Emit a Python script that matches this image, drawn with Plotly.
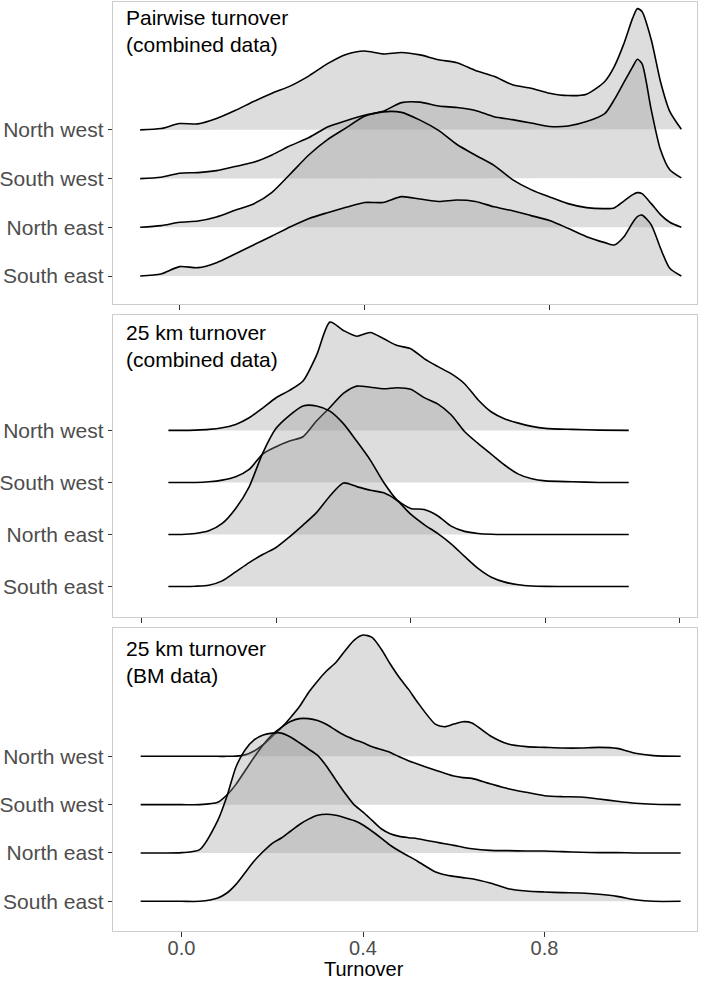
import plotly.graph_objects as go

# ---------------- data ----------------
REGIONS = ["North west", "South west", "North east", "South east"]  # top -> bottom
PANEL_TITLES = ["Pairwise turnover<br>(combined data)",
                "25 km turnover<br>(combined data)",
                "25 km turnover<br>(BM data)"]
X_TITLE = "Turnover"
TICKS_P1 = [0.0, 0.4, 0.8]
TICKS_P2 = [0.0, 0.2, 0.4, 0.6, 0.8]
TICKS_P3 = [0.0, 0.4, 0.8]
TICK_LABELS_P3 = ["0.0", "0.4", "0.8"]

# Panel 1: pairwise turnover (combined data) - density heights (ridge units)
P1_X = [-0.085, -0.04, 0.0, 0.04, 0.08, 0.12, 0.16, 0.2, 0.24, 0.28, 0.32, 0.36, 0.4, 0.44, 0.48,
        0.52, 0.56, 0.6, 0.64, 0.68, 0.72, 0.76, 0.8, 0.84, 0.88, 0.92, 0.94, 0.96, 0.98, 0.99,
        1.0, 1.02, 1.04, 1.06, 1.085]
P1_NW = [0, 0.027, 0.13, 0.123, 0.233, 0.397, 0.582, 0.753, 0.904, 1.11, 1.36, 1.55, 1.62, 1.56, 1.59,
         1.54, 1.44, 1.38, 1.22, 1.10, 0.925, 0.856, 0.753, 0.705, 0.733, 1.0, 1.30, 1.75, 2.30, 2.49,
         2.43, 1.85, 0.99, 0.38, 0.014]
P1_SW = [0, 0.027, 0.11, 0.123, 0.164, 0.247, 0.336, 0.486, 0.678, 0.842, 1.06, 1.19, 1.30, 1.38, 1.56,
         1.57, 1.49, 1.46, 1.40, 1.27, 1.21, 1.14, 1.07, 1.08, 1.17, 1.34, 1.62, 1.96, 2.30, 2.45,
         2.36, 1.41, 0.59, 0.18, 0.014]
P1_NE = [0, 0.034, 0.103, 0.13, 0.212, 0.349, 0.479, 0.719, 1.10, 1.49, 1.80, 2.04, 2.28, 2.37, 2.36,
         2.20, 1.99, 1.70, 1.48, 1.27, 0.98, 0.774, 0.623, 0.486, 0.404, 0.384, 0.397, 0.534, 0.671, 0.712,
         0.692, 0.486, 0.26, 0.103, 0]
P1_SE = [0, 0.041, 0.192, 0.171, 0.274, 0.452, 0.637, 0.822, 1.01, 1.18, 1.30, 1.41, 1.51, 1.51, 1.63,
         1.58, 1.53, 1.56, 1.53, 1.42, 1.34, 1.24, 1.14, 0.979, 0.808, 0.685, 0.637, 0.795, 1.10, 1.22,
         1.25, 1.05, 0.57, 0.158, 0]

# Panel 2: 25 km turnover (combined data)
P2_X = [0.04, 0.06, 0.08, 0.1, 0.12, 0.14, 0.16, 0.18, 0.2, 0.22, 0.24, 0.26, 0.28, 0.3, 0.32, 0.34,
        0.36, 0.38, 0.4, 0.42, 0.44, 0.46, 0.48, 0.5, 0.52, 0.54, 0.56, 0.58, 0.6, 0.64, 0.68, 0.724]
P2_NW = [0, 0, 0.006, 0.019, 0.051, 0.115, 0.244, 0.43, 0.628, 0.769, 0.949, 1.44, 2.08, 1.92, 1.81, 1.88,
         1.76, 1.63, 1.57, 1.38, 1.23, 1.09, 0.897, 0.59, 0.353, 0.22, 0.14, 0.077, 0.038, 0.019, 0.006, 0]
P2_SW = [0, 0, 0, 0.013, 0.045, 0.109, 0.25, 0.545, 0.686, 0.795, 0.878, 1.18, 1.44, 1.71, 1.85, 1.83,
         1.80, 1.82, 1.79, 1.63, 1.51, 1.30, 0.98, 0.75, 0.54, 0.33, 0.16, 0.07, 0.03, 0.013, 0, 0]
P2_NE = [0, 0, 0.019, 0.07, 0.212, 0.5, 0.917, 1.56, 2.04, 2.29, 2.47, 2.47, 2.37, 2.13, 1.79, 1.43,
         1.0, 0.66, 0.5, 0.48, 0.36, 0.16, 0.06, 0.02, 0.005, 0, 0, 0, 0, 0, 0, 0]
P2_SE = [0, 0, 0.006, 0.026, 0.109, 0.282, 0.46, 0.615, 0.75, 0.955, 1.18, 1.42, 1.74, 1.99, 1.92, 1.85,
         1.80, 1.65, 1.39, 1.19, 1.02, 0.82, 0.58, 0.35, 0.18, 0.085, 0.035, 0.012, 0.004, 0, 0, 0]

# Panel 3: 25 km turnover (BM data)
P3_X = [-0.09, -0.04, 0.0, 0.04, 0.08, 0.1, 0.12, 0.14, 0.16, 0.18, 0.2, 0.22, 0.24, 0.26, 0.28, 0.3,
        0.32, 0.34, 0.36, 0.38, 0.4, 0.42, 0.44, 0.46, 0.48, 0.5, 0.52, 0.56, 0.58, 0.6, 0.62, 0.64,
        0.68, 0.72, 0.76, 0.8, 0.84, 0.88, 0.92, 0.96, 1.0, 1.04, 1.1]
P3_NW = [0, 0, 0, 0, 0, 0, 0.005, 0.03, 0.11, 0.24, 0.41, 0.59, 0.80, 1.03, 1.32, 1.56,
         1.77, 1.94, 2.18, 2.40, 2.51, 2.46, 2.22, 1.91, 1.63, 1.39, 1.12, 0.66, 0.613, 0.667, 0.716, 0.69,
         0.427, 0.254, 0.200, 0.186, 0.172, 0.172, 0.186, 0.165, 0.062, 0.014, 0]
P3_SW = [0, 0, 0, 0, 0.05, 0.20, 0.42, 0.70, 0.98, 1.24, 1.45, 1.60, 1.72, 1.78, 1.78, 1.74,
         1.66, 1.54, 1.43, 1.35, 1.28, 1.20, 1.14, 1.08, 0.99, 0.91, 0.84, 0.71, 0.65, 0.592, 0.56, 0.544,
         0.434, 0.33, 0.255, 0.186, 0.165, 0.158, 0.117, 0.069, 0.028, 0.007, 0]
P3_NE = [0, 0, 0.007, 0.069, 0.674, 1.17, 1.78, 2.13, 2.34, 2.44, 2.48, 2.48, 2.40, 2.28, 2.15, 2.02,
         1.79, 1.51, 1.24, 1.00, 0.847, 0.674, 0.502, 0.399, 0.344, 0.317, 0.296, 0.227, 0.19, 0.158, 0.12, 0.089,
         0.055, 0.048, 0.041, 0.041, 0.028, 0.014, 0.007, 0.007, 0, 0, 0]
P3_SE = [0, 0, 0, 0, 0.069, 0.172, 0.351, 0.592, 0.833, 1.03, 1.20, 1.31, 1.45, 1.59, 1.70, 1.78,
         1.80, 1.78, 1.73, 1.67, 1.58, 1.45, 1.31, 1.16, 1.04, 0.936, 0.83, 0.606, 0.55, 0.516, 0.49, 0.468,
         0.379, 0.262, 0.213, 0.193, 0.179, 0.172, 0.145, 0.103, 0.034, 0, 0]

PANELS = [
    (P1_X, [P1_NW, P1_SW, P1_NE, P1_SE]),
    (P2_X, [P2_NW, P2_SW, P2_NE, P2_SE]),
    (P3_X, [P3_NW, P3_SW, P3_NE, P3_SE]),
]

# ---------------- styling / layout ----------------
W, H = 709, 982
FONT = "Liberation Sans, Arial, Helvetica, sans-serif"
FS = 21
FS_X = 20
FILL = "rgba(150,150,150,0.32)"
BORDER = "#cccccc"
TICKCOL = "#333333"
LABCOL = "#4d4d4d"

PLOT_L, PLOT_R = 113, 697
# (top_px, bottom_px, y_range, x_range, ticks)
GEOM = [
    (2, 304, [-0.575, 5.626], [-0.1438, 1.1189], TICKS_P1),
    (315, 617, [-0.585, 5.217], [-0.0423, 0.8254], TICKS_P2),
    (628, 931, [-0.614, 5.655], [-0.151, 1.136], TICKS_P3),
]
TITLE_TOP = [4, 319, 635]

fig = go.Figure()
for p, (xs, series) in enumerate(PANELS):
    ax = "" if p == 0 else str(p + 1)
    n = len(series)
    for i, h in enumerate(series):
        base = n - 1 - i  # North west at top
        fig.add_trace(go.Scatter(
            x=xs, y=[base + v for v in h], mode="lines",
            line=dict(color="black", width=1.6, shape="spline", smoothing=0.7),
            fill="toself", fillcolor=FILL,
            xaxis="x" + ax, yaxis="y" + ax,
            hoverinfo="skip", showlegend=False))

layout = dict(width=W, height=H, margin=dict(l=0, r=0, t=0, b=0),
              paper_bgcolor="white", plot_bgcolor="white",
              font=dict(family=FONT, size=FS, color=LABCOL))
for p, (top, bot, yr, xr, ticks) in enumerate(GEOM):
    ax = "" if p == 0 else str(p + 1)
    show = p == 2
    xa = dict(
        domain=[PLOT_L / W, PLOT_R / W], range=xr, anchor="y" + ax,
        tickvals=ticks, showticklabels=show,
        ticks="outside", ticklen=5, tickwidth=1, tickcolor=TICKCOL,
        showgrid=False, zeroline=False, showline=True, mirror=True,
        linecolor=BORDER, linewidth=1.3,
        tickfont=dict(size=FS_X, color=LABCOL, family=FONT))
    if show:
        xa["ticktext"] = TICK_LABELS_P3
        xa["ticklabelstandoff"] = -6
    layout["xaxis" + ax] = xa
    layout["yaxis" + ax] = dict(
        domain=[1 - bot / H, 1 - top / H], range=yr, anchor="x" + ax,
        tickvals=[3, 2, 1, 0], ticktext=REGIONS,
        ticks="outside", ticklen=4, tickwidth=1, tickcolor=TICKCOL,
        showgrid=False, zeroline=False, showline=True, mirror=True,
        linecolor=BORDER, linewidth=1.3,
        tickfont=dict(size=FS, color=LABCOL, family=FONT))

annotations = []
for p, t in enumerate(PANEL_TITLES):
    annotations.append(dict(
        text=t, xref="paper", yref="paper", x=124 / W, y=1 - TITLE_TOP[p] / H,
        xanchor="left", yanchor="top", align="left", showarrow=False,
        font=dict(size=FS, color="black", family=FONT)))
annotations.append(dict(
    text=X_TITLE, xref="paper", yref="paper", x=364 / W, y=1 - 969 / H,
    xanchor="center", yanchor="middle", showarrow=False,
    font=dict(size=FS_X, color="black", family=FONT)))
layout["annotations"] = annotations

fig.update_layout(**layout)
fig.write_html("out.html", config={"displayModeBar": False, "staticPlot": True},
               post_script="document.body.style.margin='0';document.body.style.overflow='hidden';")
